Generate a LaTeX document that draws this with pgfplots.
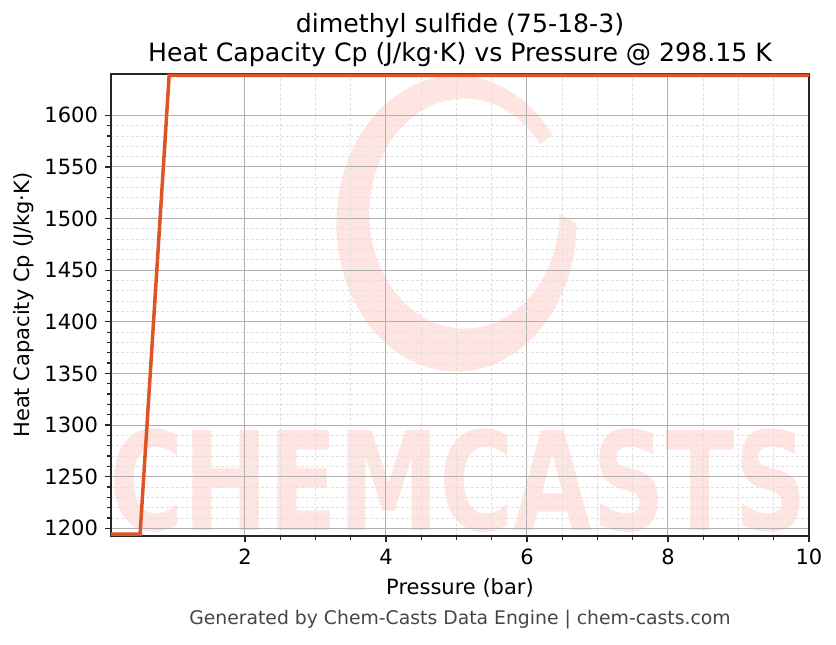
\documentclass[border=0pt]{standalone}
\usepackage{pgfplots}
\pgfplotsset{compat=1.18}
\usepackage{fontspec}
\setmainfont{DejaVu Sans}
\usetikzlibrary{calc}

\definecolor{cpline}{RGB}{222,84,38}
\definecolor{wm}{RGB}{255,229,225}
\definecolor{majgrid}{RGB}{176,176,176}
\definecolor{mingrid}{RGB}{224,224,224}
\definecolor{spine}{RGB}{38,38,38}
\definecolor{foot}{RGB}{70,70,70}

\begin{document}
\begin{tikzpicture}
% page = 836x644 px at 0.5pt per px, axis box at the origin
\path[use as bounding box] (-55.5pt,-54pt) rectangle (362.5pt,268pt);
% watermark, drawn first so the grid lies over it
\coordinate (c1) at (172.7pt,156.2pt);
\coordinate (c2) at ($(c1)+(4pt,5pt)$);
\fill[wm] ($(c1)+(37:60pt and 74pt)$)
    arc[start angle=37, end angle=360, x radius=60pt, y radius=74pt]
    -- ($(c2)+(0:47.5pt and 57.5pt)$)
    arc[start angle=360, end angle=37, x radius=47.5pt, y radius=57.5pt]
    -- cycle;
\node[text=wm, inner sep=0pt, xscale=1.27, yscale=1.715,
      font=\bfseries\fontsize{40}{40}\selectfont] at (173.8pt,27.9pt) {CHEMCASTS};
\begin{axis}[
    scale only axis,
    width=349pt, height=231pt,
    xmin=0.1, xmax=10,
    ymin=1192.5, ymax=1640,
    xtick={2,4,6,8,10},
    ytick={1200,1250,...,1600},
    minor x tick num=3,
    minor y tick num=4,
    grid=both,
    major grid style={majgrid, line width=0.5pt},
    minor grid style={mingrid, line width=0.4pt, dash pattern=on 1.5pt off 1pt},
    axis line style={spine, line width=1pt},
    tick style={spine, line width=0.6pt},
    major tick length=3pt,
    minor tick length=1.8pt,
    tick align=outside,
    xtick pos=bottom, ytick pos=left,
    ticklabel style={font=\fontsize{10.5}{12}\selectfont},
    /pgf/number format/assume math mode=true,
    /pgf/number format/1000 sep={},
    scaled ticks=false,
]
\addplot[cpline, line width=1.75pt] coordinates {
(0.1,1194.3) (0.5125,1194.3) (0.925,1638.7) (1.3375,1638.7) (1.75,1638.7)
(2.1625,1638.7) (2.575,1638.7) (2.9875,1638.7) (3.4,1638.7) (3.8125,1638.7)
(4.225,1638.7) (4.6375,1638.7) (5.05,1638.7) (5.4625,1638.7) (5.875,1638.7)
(6.2875,1638.7) (6.7,1638.7) (7.1125,1638.7) (7.525,1638.7) (7.9375,1638.7)
(8.35,1638.7) (8.7625,1638.7) (9.175,1638.7) (9.5875,1638.7) (10,1638.7)
};
\end{axis}
\node[anchor=base, font=\fontsize{12.6}{14}\selectfont] at (174.5pt,251.5pt) {dimethyl sulfide (75-18-3)};
\node[anchor=base, font=\fontsize{12.6}{14}\selectfont] at (174.5pt,237pt) {Heat Capacity Cp (J/kg·K) vs Pressure @ 298.15 K};
\node[anchor=base, font=\fontsize{10.5}{12}\selectfont] at (174.5pt,-29pt) {Pressure (bar)};
\node[rotate=90, font=\fontsize{10.5}{12}\selectfont] at (-43.5pt,115.5pt) {Heat Capacity Cp (J/kg·K)};
\node[anchor=base, text=foot, font=\fontsize{9.4}{11}\selectfont] at (174.5pt,-44pt) {Generated by Chem-Casts Data Engine | chem-casts.com};
\end{tikzpicture}
\end{document}
